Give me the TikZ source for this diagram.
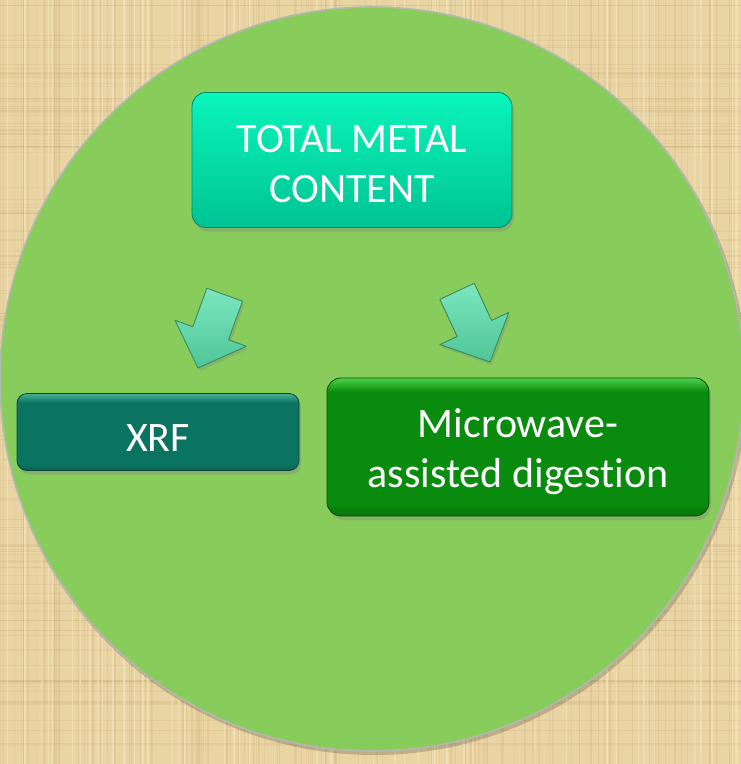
\documentclass[tikz,border=0pt]{standalone}
\usepackage{fontspec}
\setmainfont{Carlito}[Ligatures={NoCommon}]
\usetikzlibrary{shadows}
\definecolor{papyrus}{HTML}{E9D4A3}
\definecolor{papyrusdark}{HTML}{C8AC76}
\definecolor{papyruslight}{HTML}{F6E8C2}
\definecolor{disc}{HTML}{88CC5C}
\definecolor{discedge}{HTML}{B4B8B0}
\definecolor{topA}{HTML}{0AF8BC}
\definecolor{topB}{HTML}{00C393}
\definecolor{xrfBase}{HTML}{0A7460}
\definecolor{xrfLight}{HTML}{48B096}
\definecolor{xrfDark}{HTML}{085E4E}
\definecolor{mwBase}{HTML}{098B0D}
\definecolor{mwLight}{HTML}{4CD24C}
\definecolor{mwDark}{HTML}{067308}
\definecolor{arrowA}{HTML}{7CE6BE}
\definecolor{arrowB}{HTML}{4EC698}
\definecolor{arrowedge}{HTML}{3A8A5E}
% flat fills with a bright rim along the top edge
\pgfdeclareverticalshading{xrfshade}{100bp}{color(0bp)=(xrfDark); color(25bp)=(xrfDark);
  color(29bp)=(xrfBase); color(69bp)=(xrfBase); color(75bp)=(xrfLight); color(100bp)=(xrfLight)}
\pgfdeclareverticalshading{mwshade}{100bp}{color(0bp)=(mwDark); color(25bp)=(mwDark);
  color(29bp)=(mwBase); color(70bp)=(mwBase); color(75bp)=(mwLight); color(100bp)=(mwLight)}
\pgfdeclareverticalshading{topshade}{100bp}{color(0bp)=(topB); color(25bp)=(topB);
  color(70bp)=(topA!85!topB); color(75bp)=(topA); color(100bp)=(topA)}
\tikzset{
  boxbase/.style={rounded corners=14pt, inner sep=0pt, line width=0.8pt,
    drop shadow={shadow xshift=2pt, shadow yshift=-4pt, opacity=0.35}},
  boxtext/.style={text=white, align=center, inner sep=0pt, font=\fontsize{42}{50}\selectfont},
  topbox/.style={boxbase, shading=topshade, draw=topB!70!black,
    minimum width=320pt, minimum height=135pt},
  xrfbox/.style={boxbase, shading=xrfshade, draw=xrfBase!60!black,
    rounded corners=10pt, minimum width=282pt, minimum height=77pt},
  mwbox/.style={boxbase, shading=mwshade, draw=mwBase!55!black,
    minimum width=382pt, minimum height=138pt},
  bigarrow/.style={top color=arrowA, bottom color=arrowB, draw=arrowedge, line width=0.9pt,
    line join=round, drop shadow={shadow xshift=2pt, shadow yshift=-3pt, opacity=0.3}},
}
% block arrow pointing down, tip at the origin of its own frame
\newcommand{\blockarrow}{%
  \path[bigarrow] (-19,-78) -- (19,-78) -- (19,-37) -- (38,-37) -- (0,0)
     -- (-38,-37) -- (-19,-37) -- cycle;}
\begin{document}
\begin{tikzpicture}[x=1pt, y=-1pt]
  \useasboundingbox (0,0) rectangle (741,764);
  % papyrus background
  \fill[papyrus] (0,0) rectangle (741,764);
  \pgfmathsetseed{7}
  \foreach \i in {1,...,140}{
    \pgfmathsetmacro{\px}{rnd*741}
    \pgfmathsetmacro{\op}{0.1+0.2*rnd}
    \draw[papyrusdark, opacity=\op, line width=1.2pt] (\px,0) -- (\px,764);
  }
  \foreach \i in {1,...,140}{
    \pgfmathsetmacro{\py}{rnd*764}
    \pgfmathsetmacro{\op}{0.1+0.2*rnd}
    \draw[papyrusdark, opacity=\op, line width=1.2pt] (0,\py) -- (741,\py);
  }
  \foreach \i in {1,...,60}{
    \pgfmathsetmacro{\px}{rnd*741}
    \draw[papyruslight, opacity=0.5, line width=1.5pt] (\px,0) -- (\px,764);
  }
  % green disc
  \fill[black, opacity=0.18] (374,382) circle (373);
  \filldraw[fill=disc, draw=discedge, line width=1.6pt] (372,379) circle (372);
  % boxes
  \node[topbox] (total) at (352,160) {};
  \node[xrfbox] (xrf) at (158,432) {};
  \node[mwbox] (mw) at (518,447) {};
  % box labels
  \node[boxtext] (totaltext) at ([yshift=-4pt]total.center) {TOTAL METAL\\CONTENT};
  \node[boxtext] (xrftext) at ([yshift=-6pt]xrf.center) {XRF};
  \node[boxtext] (mwtext) at ([yshift=-5pt]mw.center) {Microwave-\\assisted digestion};
  % block arrows
  \coordinate (tipL) at (198,368);
  \coordinate (tipR) at (490,362);
  \begin{scope}[shift={(tipL)}, rotate=-20]
    \blockarrow
  \end{scope}
  \begin{scope}[shift={(tipR)}, rotate=25]
    \blockarrow
  \end{scope}
\end{tikzpicture}
\end{document}
